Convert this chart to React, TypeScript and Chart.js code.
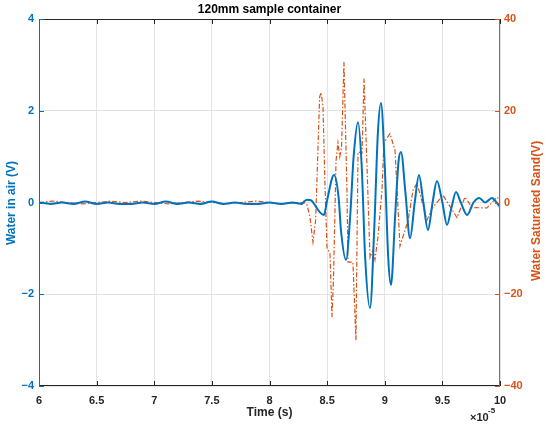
import React, { useEffect, useRef } from "react";
import { Chart, registerables } from "chart.js";

Chart.register(...registerables);

// Time axis in units of 1e-5 s
const airTime = [
  6.0, 6.1, 6.2, 6.3, 6.4, 6.5, 6.6, 6.7, 6.8, 6.9, 7.0, 7.1, 7.2, 7.3, 7.4, 7.5,
  7.6, 7.7, 7.8, 7.9, 8.0, 8.1, 8.2, 8.28,
  8.3, 8.325, 8.36, 8.4, 8.44, 8.473, 8.5, 8.56, 8.6, 8.62, 8.664, 8.7, 8.73,
  8.768, 8.8, 8.83, 8.872, 8.91, 8.94, 8.967, 9.0, 9.03, 9.054, 9.09, 9.12,
  9.141, 9.18, 9.219, 9.26, 9.297, 9.335, 9.375, 9.415, 9.453, 9.5, 9.54, 9.58,
  9.618, 9.66, 9.714, 9.77, 9.82, 9.87, 9.93, 9.97, 10.0,
];
const airVolt = [
  0, -0.03, 0, -0.03, 0.02, -0.03, 0, -0.03, -0.03, 0, -0.03, 0.02, -0.03, 0, -0.03, 0.02,
  -0.03, 0, -0.03, -0.03, 0, -0.03, 0, -0.03,
  0.02, 0.06, 0.05, -0.08, -0.22, -0.27, 0.05, 0.6, 0.1, -0.6, -1.25, -0.3, 1.0,
  1.75, 0.8, -1.2, -2.3, -0.5, 1.5, 2.17, 0.8, -1.2, -1.8, -0.3, 0.9,
  1.1, 0.2, -0.78, 0.0, 0.6, 0.0, -0.6, 0.0, 0.47, 0.0, -0.49, -0.1,
  0.23, 0.0, -0.27, 0.0, 0.1, 0.0, 0.1, 0.0, -0.1,
];

const sandTime = [
  6.0, 6.12, 6.25, 6.38, 6.5, 6.62, 6.75, 6.88, 7.0, 7.12, 7.25, 7.38, 7.5, 7.62,
  7.75, 7.88, 8.0, 8.12, 8.25,
  8.3, 8.325, 8.35, 8.377, 8.4, 8.412, 8.435, 8.447, 8.464, 8.48, 8.499, 8.525,
  8.542, 8.555, 8.577, 8.594, 8.61, 8.625, 8.646, 8.672, 8.681, 8.724, 8.75,
  8.768, 8.803, 8.82, 8.846, 8.872, 8.898, 8.915, 8.941, 8.976, 8.993, 9.045,
  9.089, 9.132, 9.202, 9.245, 9.28, 9.367, 9.41, 9.505, 9.627, 9.696, 9.757,
  9.887, 9.974, 10.0,
];
const sandVolt = [
  0, 0.3, 0, -0.3, 0, 0.3, 0, 0.3, 0, -0.3, 0, 0.3, 0, -0.3, 0, 0.3, 0, -0.3, 0,
  0, -0.5, -3, -8.6, -4, 5, 23, 24, 21, 5, -10, -11,
  -25, -17, 9, 13, 10, 12, 30.6, 2.7, -13, -13, -30,
  11, 10.8, 27, 7.8, -12, -10.3, -12.5, -7.5, 2.7, 13, 15,
  11.4, -9.5, -4, 2.7, 4.2, -3.8, -1.3, 1.6, -3.3, 1.2, -1.1,
  -1.2, 1.2, 0.5,
];

const xTicks = [6, 6.5, 7, 7.5, 8, 8.5, 9, 9.5, 10];
const leftTicks = [-4, -2, 0, 2, 4];
const rightTicks = [-40, -20, 0, 20, 40];

const BLUE = "#0072BD";
const ORANGE = "#D95319";
const DARK = "#262626";
const FONT = "'Liberation Sans', Arial, sans-serif";

const fmt = (v: number) => (v < 0 ? "\u2212" + String(Math.abs(v)) : String(v));

export default function App() {
  const ref = useRef<HTMLCanvasElement | null>(null);

  useEffect(() => {
    if (!ref.current) return;
    const decor = {
      id: "decor",
      afterDraw(chart: any) {
        const { ctx, chartArea: a, scales } = chart;
        ctx.save();
        ctx.lineWidth = 1;
        // box
        ctx.strokeStyle = DARK;
        ctx.beginPath();
        ctx.moveTo(a.left, a.top + 0.5);
        ctx.lineTo(a.right, a.top + 0.5);
        ctx.moveTo(a.left, a.bottom - 0.5);
        ctx.lineTo(a.right, a.bottom - 0.5);
        for (const v of xTicks) {
          const px = Math.round(scales.x.getPixelForValue(v)) + 0.5;
          ctx.moveTo(px, a.bottom);
          ctx.lineTo(px, a.bottom - 5);
          ctx.moveTo(px, a.top);
          ctx.lineTo(px, a.top + 5);
        }
        ctx.stroke();
        ctx.strokeStyle = BLUE;
        ctx.beginPath();
        ctx.moveTo(a.left + 0.5, a.top);
        ctx.lineTo(a.left + 0.5, a.bottom);
        for (const v of leftTicks) {
          const py = Math.round(scales.y.getPixelForValue(v)) + 0.5;
          ctx.moveTo(a.left, py);
          ctx.lineTo(a.left + 5, py);
        }
        ctx.stroke();
        ctx.strokeStyle = ORANGE;
        ctx.beginPath();
        ctx.moveTo(a.right - 0.5, a.top);
        ctx.lineTo(a.right - 0.5, a.bottom);
        for (const v of rightTicks) {
          const py = Math.round(scales.y2.getPixelForValue(v)) + 0.5;
          ctx.moveTo(a.right, py);
          ctx.lineTo(a.right - 5, py);
        }
        ctx.stroke();

        // titles
        ctx.textAlign = "center";
        ctx.textBaseline = "middle";
        ctx.fillStyle = "#000";
        ctx.font = `bold 12px ${FONT}`;
        ctx.fillText("120mm sample container", (a.left + a.right) / 2, 10);
        ctx.fillStyle = DARK;
        ctx.fillText("Time (s)", (a.left + a.right) / 2, 413);
        ctx.font = `bold 11px ${FONT}`;
        ctx.textAlign = "left";
        ctx.fillText("\u00d710", 470, 418);
        ctx.font = `bold 8px ${FONT}`;
        ctx.fillText("-5", 488, 411);

        ctx.font = `bold 12px ${FONT}`;
        ctx.textAlign = "center";
        ctx.save();
        ctx.translate(12, 203);
        ctx.rotate(-Math.PI / 2);
        ctx.fillStyle = BLUE;
        ctx.fillText("Water in air (V)", 0, 0);
        ctx.restore();
        ctx.save();
        ctx.translate(537, 211);
        ctx.rotate(-Math.PI / 2);
        ctx.fillStyle = ORANGE;
        ctx.fillText("Water Saturated Sand(V)", 0, 0);
        ctx.restore();
        ctx.restore();
      },
    };

    const chart = new Chart(ref.current, {
      type: "line",
      data: {
        datasets: [
          {
            label: "Water Saturated Sand(V)",
            data: sandTime.map((t, i) => ({ x: t, y: sandVolt[i] })),
            yAxisID: "y2",
            borderColor: ORANGE,
            borderWidth: 1.2,
            borderDash: [5, 2, 1.5, 2],
            pointRadius: 0,
            tension: 0,
            order: 2,
          },
          {
            label: "Water in air (V)",
            data: airTime.map((t, i) => ({ x: t, y: airVolt[i] })),
            yAxisID: "y",
            borderColor: BLUE,
            borderWidth: 2,
            pointRadius: 0,
            cubicInterpolationMode: "monotone",
            order: 1,
          },
        ],
      },
      options: {
        animation: false,
        responsive: true,
        maintainAspectRatio: false,
        layout: { padding: { top: 19, left: 0, right: 0, bottom: 0 } },
        plugins: { legend: { display: false }, tooltip: { enabled: false }, title: { display: false } },
        scales: {
          x: {
            type: "linear",
            min: 6,
            max: 10,
            afterBuildTicks: (s: any) => {
              s.ticks = xTicks.map((v) => ({ value: v }));
            },
            afterFit: (s: any) => {
              s.height = 43;
            },
            grid: { color: "#e3e3e3", drawTicks: false },
            border: { display: false },
            ticks: {
              color: DARK,
              font: { family: FONT, size: 11, weight: "bold" },
              padding: 8,
              maxRotation: 0,
              autoSkip: false,
              callback: (v: any) => fmt(Number(v)),
            },
          },
          y: {
            position: "left",
            min: -4,
            max: 4,
            afterBuildTicks: (s: any) => {
              s.ticks = leftTicks.map((v) => ({ value: v }));
            },
            afterFit: (s: any) => {
              s.width = 39;
            },
            grid: { color: "#e3e3e3", drawTicks: false },
            border: { display: false },
            ticks: {
              color: BLUE,
              font: { family: FONT, size: 11, weight: "bold" },
              padding: 5,
              callback: (v: any) => fmt(Number(v)),
            },
          },
          y2: {
            position: "right",
            min: -40,
            max: 40,
            afterBuildTicks: (s: any) => {
              s.ticks = rightTicks.map((v) => ({ value: v }));
            },
            afterFit: (s: any) => {
              s.width = 50;
            },
            grid: { drawOnChartArea: false, drawTicks: false },
            border: { display: false },
            ticks: {
              color: ORANGE,
              font: { family: FONT, size: 11, weight: "bold" },
              padding: 4,
              callback: (v: any) => fmt(Number(v)),
            },
          },
        },
      },
      plugins: [decor],
    } as any);
    return () => chart.destroy();
  }, []);

  return (
    <div style={{ position: "fixed", left: 0, top: 0, width: 550, height: 429, background: "#fff" }}>
      <canvas ref={ref} />
    </div>
  );
}
